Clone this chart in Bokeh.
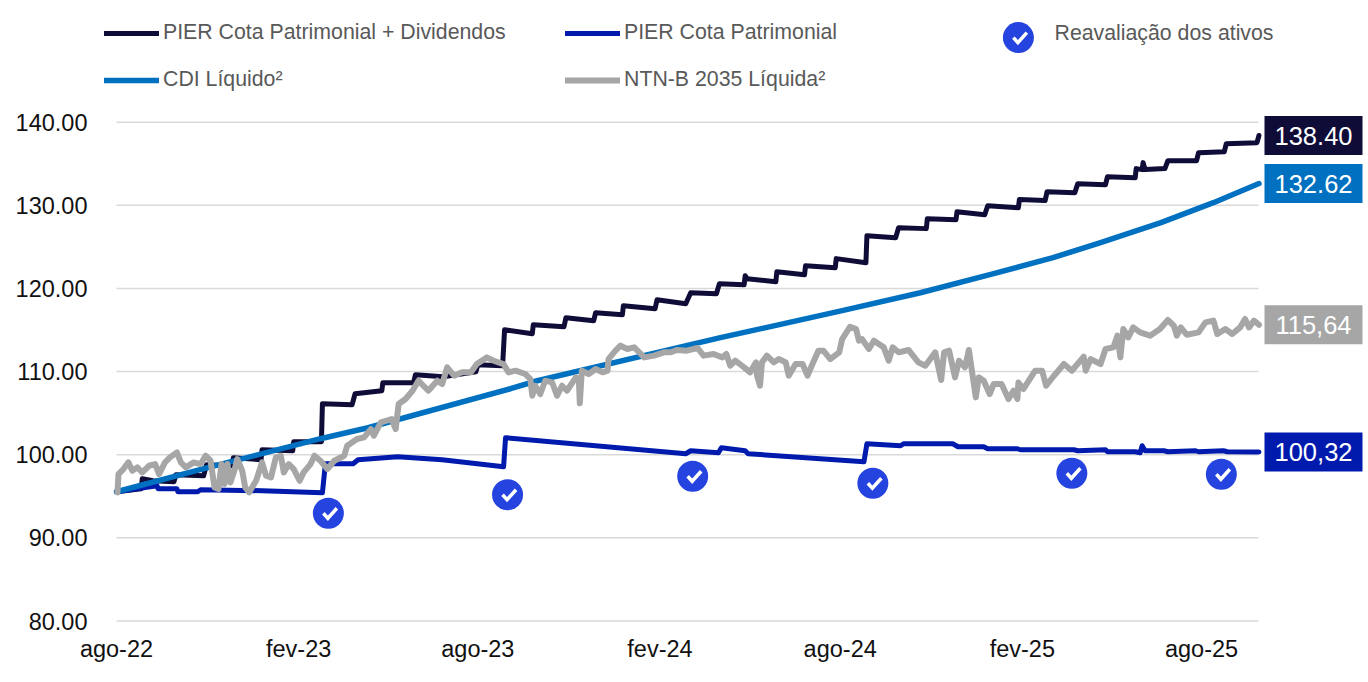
import numpy as np
import pandas as pd
from bokeh.plotting import figure
from bokeh.embed import file_html
from bokeh.resources import INLINE
from bokeh.core.properties import value
from bokeh.models import (Range1d, FixedTicker, NumeralTickFormatter, Label, Legend, LegendItem)

BASE_DATE = "2022-08-01"
TICK_DATES = ["2022-08-01", "2023-02-01", "2023-08-01", "2024-02-01", "2024-08-01", "2025-02-01", "2025-08-01"]
TICK_LABELS = ["ago-22", "fev-23", "ago-23", "fev-24", "ago-24", "fev-25", "ago-25"]
Y_TICKS = [80, 90, 100, 110, 120, 130, 140]
LAST_DAY = 1153.5

# days since BASE_DATE, and index values
dividendos_days = [0,25,26,37,58,60,88,91,117,118,146,147,178,179,207,208,238,241,268,269,300,302,330,363,365,390,392,420,421,452,454,482,484,511,512,544,546,575,580,606,609,634,635,637,666,667,695,696,726,727,757,758,787,790,818,819,848,849,877,880,911,912,938,940,968,971,999,1001,1029,1030,1036,1037,1039,1059,1062,1091,1093,1119,1121,1152,1154]
dividendos_vals = [95.55,95.91,97.11,96.87,96.75,97.59,97.47,98.80,98.68,99.64,99.40,100.60,100.48,101.56,101.56,106.14,106.02,107.34,107.70,108.66,108.66,109.63,109.39,109.99,110.83,110.71,115.04,114.56,115.64,115.40,116.49,116.13,117.09,116.85,117.93,117.57,118.65,118.17,119.49,119.37,120.58,120.46,121.54,121.18,120.82,122.02,121.66,122.74,122.50,123.59,123.10,126.35,126.11,127.32,127.20,128.40,128.28,129.24,128.88,129.96,129.72,130.69,130.57,131.65,131.53,132.61,132.49,133.45,133.33,134.42,134.30,135.14,134.30,134.42,135.38,135.38,136.34,136.46,137.42,137.54,138.40]

cota_days = [0,41,42,61,62,82,85,147,208,211,239,244,284,329,391,393,575,580,608,611,635,638,755,758,792,795,845,850,876,880,910,913,967,971,999,1001,1029,1034,1036,1039,1058,1062,1090,1093,1118,1122,1154]
cota_vals = [95.55,96.27,95.91,95.91,95.55,95.55,95.79,95.67,95.43,98.92,98.92,99.40,99.76,99.40,98.56,102.05,100.12,100.48,100.24,100.84,100.48,100.12,99.16,101.32,101.08,101.32,101.32,100.96,100.96,100.72,100.72,100.60,100.60,100.48,100.60,100.36,100.36,100.24,101.08,100.48,100.48,100.36,100.48,100.36,100.48,100.36,100.32]

cdi_days = [0,92,206,254,398,425,610,733,812,886,946,994,1055,1108,1154]
cdi_vals = [95.55,98.44,101.93,103.25,107.94,108.90,114.08,117.33,119.49,121.78,123.71,125.51,127.92,130.32,132.62]

ntnb_days = [1,2,7,12,16,21,26,33,39,43,49,54,61,65,70,78,85,90,95,99,103,106,109,112,115,119,122,127,130,134,139,141,147,151,156,161,166,169,174,179,185,189,196,200,206,213,220,230,233,243,250,257,260,267,278,282,285,292,299,305,310,315,324,329,334,341,349,358,364,374,381,391,396,403,413,418,420,423,428,433,440,445,450,455,464,467,468,470,477,484,491,496,497,504,509,516,523,528,533,543,553,560,566,576,587,593,603,612,616,620,625,634,640,646,647,650,652,657,664,669,676,679,686,693,698,703,709,714,721,730,733,741,747,750,753,760,765,770,775,780,784,790,800,810,817,827,833,836,841,847,851,857,861,868,871,876,882,886,894,901,906,910,911,916,928,935,939,947,957,965,977,979,984,994,999,1007,1011,1014,1017,1022,1027,1034,1044,1054,1062,1068,1071,1075,1081,1093,1100,1108,1112,1120,1127,1135,1140,1144,1149,1154]
ntnb_vals = [95.47,97.68,98.28,99.08,98.08,98.48,97.88,98.68,98.88,97.68,99.08,99.68,100.28,99.08,98.48,99.08,98.88,99.88,99.28,96.07,95.87,98.88,96.47,98.88,96.67,98.08,99.48,98.08,96.07,95.47,96.47,96.87,99.08,97.47,97.27,99.68,99.88,97.88,98.88,98.28,96.87,97.88,98.88,99.88,99.28,98.28,99.28,99.88,101.08,101.89,102.09,103.09,102.29,103.89,104.29,103.09,106.10,106.70,107.70,108.91,108.30,107.70,108.91,108.51,110.51,109.51,109.91,109.91,110.91,111.71,111.31,110.90,109.91,110.11,109.71,109.11,107.10,108.30,107.30,108.91,108.71,107.10,108.30,107.70,109.31,109.11,106.18,110.11,109.71,110.31,109.91,110.11,111.51,112.52,113.12,112.72,112.92,112.32,111.71,111.92,112.32,112.32,112.60,112.52,112.84,111.92,112.12,111.71,112.12,110.71,111.31,110.51,109.91,111.11,109.51,108.30,111.11,111.92,111.11,111.51,111.11,109.51,110.91,110.91,109.51,110.91,112.52,112.52,111.51,112.32,113.92,115.40,115.12,113.72,113.92,112.72,113.72,113.32,112.92,111.31,112.92,112.32,112.60,111.11,110.71,112.32,108.99,112.32,112.52,109.31,111.31,110.51,112.60,106.90,109.31,108.91,107.30,108.50,108.50,106.70,107.70,106.70,108.70,107.90,110.11,110.11,108.30,109.51,110.91,110.11,111.79,110.11,111.51,110.91,112.72,112.92,114.32,111.71,115.12,114.12,115.32,114.72,114.32,115.12,116.21,115.52,114.32,115.32,114.44,114.72,115.92,116.13,114.52,115.12,114.52,115.32,116.33,115.32,116.13,115.64]

reaval_days = [214, 395, 582, 764, 965, 1116]
reaval_vals = [92.96, 95.19, 97.41, 96.57, 97.77, 97.65]

END_VALUES = [138.40, 132.62, 115.64, 100.32]
END_TEXTS = ["138.40", "132.62", "115,64", "100,32"]

NAVY, BLUE, CDI, GRAY, MARK = "#0F0C38", "#001AAE", "#0070C0", "#A6A6A6", "#2443DF"
END_COLORS = [NAVY, CDI, GRAY, BLUE]
FONT = "Liberation Sans"

base = pd.Timestamp(BASE_DATE)
def to_dates(days):
    return base + pd.to_timedelta(np.asarray(days, dtype=float), unit="D")
def ms(ts):
    return pd.Timestamp(ts).value / 1e6

tick_ms = [ms(t) for t in TICK_DATES]
PX_PER_DAY = 0.99
PX_PER_UNIT = 8.313
PAD_LEFT = 16      # frame pixels left of the first date
FRAME_W, FRAME_H = 1264, 622
Y0 = 80 - 1.5 / PX_PER_UNIT

p = figure(width=1368, height=674, output_backend="svg", toolbar_location=None,
           x_axis_type="datetime",
           x_range=Range1d(ms(base - pd.Timedelta(days=PAD_LEFT / PX_PER_DAY)),
                           ms(base + pd.Timedelta(days=(FRAME_W - PAD_LEFT) / PX_PER_DAY))),
           y_range=Range1d(Y0, Y0 + FRAME_H / PX_PER_UNIT),
           min_border_left=100, min_border_right=4, min_border_top=0, min_border_bottom=52,
           outline_line_color=None, background_fill_color="white", border_fill_color="white")

p.xgrid.visible = False
p.ygrid.visible = False
p.segment(x0=to_dates([0] * len(Y_TICKS)), x1=to_dates([LAST_DAY] * len(Y_TICKS)),
          y0=Y_TICKS, y1=Y_TICKS, line_color="#D9D9D9", line_width=1.5)

p.yaxis.ticker = FixedTicker(ticks=Y_TICKS)
p.yaxis.formatter = NumeralTickFormatter(format="0.00")
p.xaxis.ticker = FixedTicker(ticks=tick_ms)
p.xaxis.major_label_overrides = dict(zip(tick_ms, TICK_LABELS))
for ax in (p.xaxis[0], p.yaxis[0]):
    ax.axis_line_color = None
    ax.major_tick_line_color = None
    ax.minor_tick_line_color = None
    ax.major_label_text_font = FONT
    ax.major_label_text_color = "#111111"
    ax.major_label_text_font_size = "23.5px"
p.yaxis.major_label_standoff = 7
p.xaxis.major_label_standoff = 7

style = dict(line_join="round", line_cap="round")
r_div = p.line(to_dates(dividendos_days), dividendos_vals, line_color=NAVY, line_width=5, **style)
r_cota = p.line(to_dates(cota_days), cota_vals, line_color=BLUE, line_width=5, **style)
r_cdi = p.line(to_dates(cdi_days), cdi_vals, line_color=CDI, line_width=5.5, **style)
r_ntnb = p.line(to_dates(ntnb_days), ntnb_vals, line_color=GRAY, line_width=6, **style)

# legend entry of the marker series, placed with the same scales
LEGEND_MARK_DAY, LEGEND_MARK_VAL = 911, 150.18
mark_days = reaval_days + [LEGEND_MARK_DAY]
mark_vals = reaval_vals + [LEGEND_MARK_VAL]
p.scatter(to_dates(mark_days), mark_vals, size=31, marker="circle", fill_color=MARK, line_color=None)

CHECK_DX = np.array([-5.0, -0.5, 8.5]) / PX_PER_DAY
CHECK_DY = np.array([0.0, -5.0, 5.0]) / PX_PER_UNIT
p.multi_line([list(to_dates(d + CHECK_DX)) for d in mark_days],
             [list(v + CHECK_DY) for v in mark_vals],
             line_color="white", line_width=3.5, line_join="miter", line_cap="butt")

def add_legend(label, renderer, x, y):
    leg = Legend(items=[LegendItem(label=label, renderers=[renderer])], location=(x, y),
                 padding=0, margin=0, spacing=0, label_standoff=4, glyph_width=55, glyph_height=20,
                 label_height=20, label_text_font=FONT, label_text_font_size="21.3px",
                 label_text_color="#595959", border_line_color=None, background_fill_alpha=0)
    p.add_layout(leg, "center")

add_legend("PIER Cota Patrimonial + Dividendos", r_div, 4, 577)
add_legend("PIER Cota Patrimonial", r_cota, 465, 577)
add_legend("CDI Líquido²", r_cdi, 4, 530)
add_legend("NTN-B 2035 Líquida²", r_ntnb, 465, 530)
p.add_layout(Label(x=954, y=590, x_units="screen", y_units="screen", text="Reavaliação dos ativos",
                   text_font=FONT, text_font_size="21.3px", text_color="#595959", text_baseline="middle"))

END_BOX_DAY = (1313 - 116) / PX_PER_DAY   # centre of the value boxes, right of the last date
end_x = to_dates([END_BOX_DAY] * len(END_VALUES))
p.rect(end_x, END_VALUES, width=98, height=39, width_units="screen", height_units="screen",
       fill_color=END_COLORS, line_color=None)
p.text(end_x, END_VALUES, text=END_TEXTS, text_font=value(FONT), text_font_size="25.5px",
       text_color="#FFFFFF", text_align="center", text_baseline="middle")

open("out.html", "w").write(file_html(p, INLINE))
